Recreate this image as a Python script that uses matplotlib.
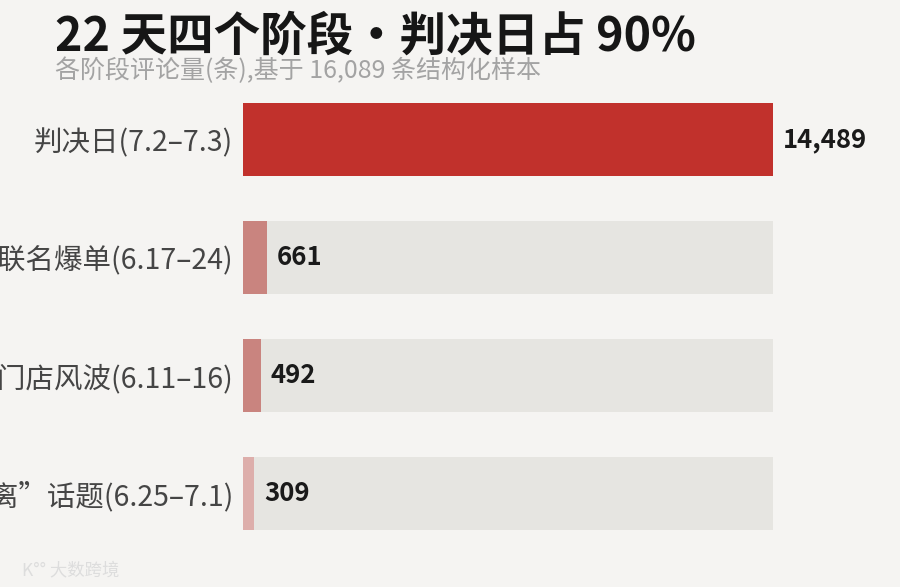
import matplotlib
matplotlib.use("Agg")
import matplotlib.pyplot as plt
from matplotlib.transforms import offset_copy

plt.rcParams['font.family'] = ['Noto Sans CJK SC', 'DejaVu Sans']

# data
stages = ["判决日(7.2–7.3)", "品牌联名爆单(6.17–24)", "线下门店风波(6.11–16)", "“逃离”话题(6.25–7.1)"]
counts = [14489, 661, 492, 309]
bar_colors = ["#c1312c", "#c9847f", "#c9847f", "#ddaeab"]

title = "22 天四个阶段・判决日占 90%"
subtitle = "各阶段评论量(条),基于 16,089 条结构化样本"

bg = "#f5f4f2"
track = "#e6e5e1"

fig = plt.figure(figsize=(9, 5.87), dpi=100, facecolor=bg)
ax = fig.add_axes([243/900, 1-530/587, 530/900, 427/587])
ax.set_facecolor(bg)

h = 73/118
ypos = list(range(len(stages)))
vmax = max(counts)
ax.barh(ypos, [vmax]*len(counts), height=h, color=track, zorder=1)
ax.barh(ypos, counts, height=h, color=bar_colors, zorder=2)
ax.set_xlim(0, vmax)
ax.set_ylim(len(stages)-1+h/2, -h/2)

ax.set_yticks(ypos)
ax.set_yticklabels(stages, fontsize=20.5, color="#454545")
ax.tick_params(axis='y', length=0, pad=7)
ax.set_xticks([])
for s in ax.spines.values():
    s.set_visible(False)

off = offset_copy(ax.transData, fig=fig, x=10, y=0, units='dots')
for y, v in zip(ypos, counts):
    ax.text(v, y, f"{v:,}", transform=off, ha='left', va='center',
            fontsize=18.5, fontweight='bold', color="#1a1a1a")

fig.text(55/900, 1-36/587, title, fontsize=33.5, fontweight='heavy',
         color="#161616", ha='left', va='center')
fig.text(55/900, 1-71/587, subtitle, fontsize=18, color="#a3a3a3",
         ha='left', va='center')

fig.text(22/900, 1-570/587, "K°° 大数跨境", fontsize=12.5, color="#dddddd",
         ha='left', va='center')

fig.savefig("out.png", dpi=100, facecolor=bg)
